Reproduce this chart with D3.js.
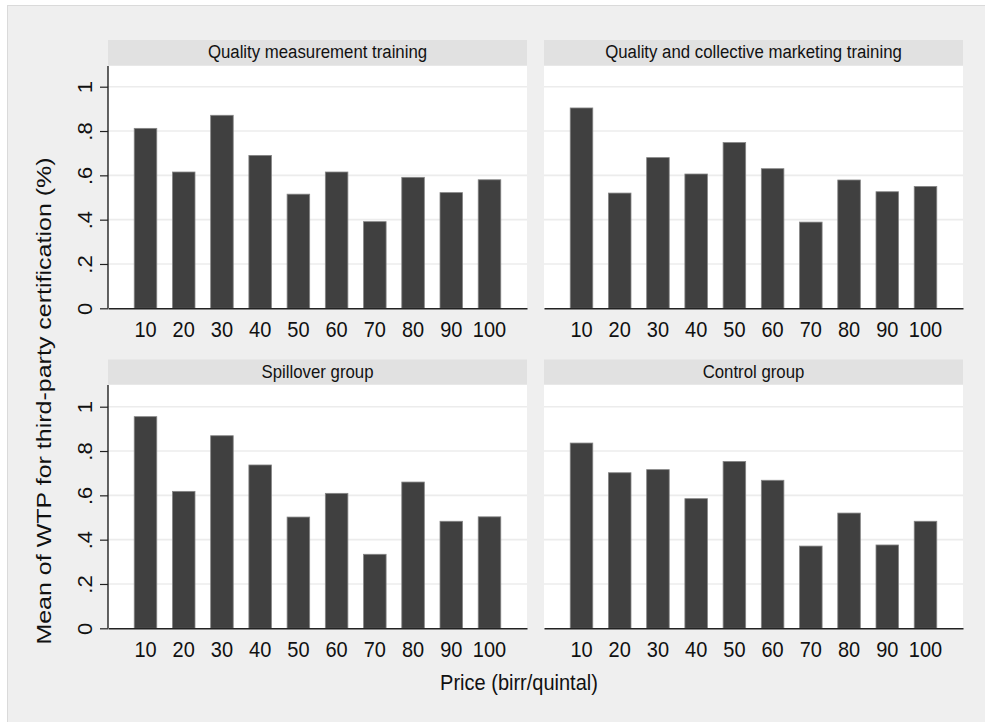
<!DOCTYPE html>
<html>
<head>
<meta charset="utf-8">
<script src="https://cdn.jsdelivr.net/npm/d3@7"></script>
<style>
  body { margin: 0; background: #fff; }
  text { font-family: "Liberation Sans", Arial, sans-serif; fill: #111; }
</style>
</head>
<body>
<div id="chart"></div>
<script>
const prices = ["10", "20", "30", "40", "50", "60", "70", "80", "90", "100"];
const panelTitles = ["Quality measurement training", "Quality and collective marketing training", "Spillover group", "Control group"];
const qualityMeasurement = [0.812, 0.615, 0.871, 0.690, 0.515, 0.615, 0.391, 0.591, 0.522, 0.580];
const collectiveMarketing = [0.904, 0.520, 0.680, 0.606, 0.748, 0.630, 0.389, 0.579, 0.526, 0.550];
const spillover = [0.955, 0.618, 0.869, 0.737, 0.502, 0.609, 0.334, 0.660, 0.483, 0.503];
const control = [0.836, 0.702, 0.716, 0.585, 0.753, 0.668, 0.371, 0.520, 0.376, 0.483];
const yTicks = [0, 0.2, 0.4, 0.6, 0.8, 1];
const yTickLabels = ["0", ".2", ".4", ".6", ".8", "1"];

const width = 985, height = 722;
const stretch = 1.1; // the picture is a bit taller than wide, text too

const svg = d3.select("#chart").append("svg")
  .attr("width", width)
  .attr("height", height);

svg.append("rect")
  .attr("x", 7.5).attr("y", 5.5)
  .attr("width", 985).attr("height", 730)
  .attr("fill", "#efefef")
  .attr("stroke", "#dadada");

const cols = [[108, 527], [544, 963]];
const rows = [{ head: 40, top: 66, zero: 308.3 }, { head: 359.5, top: 385, zero: 628.3 }];
const series = [qualityMeasurement, collectiveMarketing, spillover, control];

series.forEach((values, i) => {
  const c = cols[i % 2], r = rows[Math.floor(i / 2)];
  const data = prices.map((p, j) => ({ price: p, value: values[j] }));

  const x = d3.scaleBand().domain(prices).range(c)
    .paddingInner(0.41).paddingOuter(0.686);
  const y = d3.scaleLinear().domain([0, 1]).range([r.zero, r.zero - 221.6]);

  const g = svg.append("g");

  // header strip
  g.append("rect")
    .attr("x", c[0]).attr("y", r.head)
    .attr("width", c[1] - c[0]).attr("height", r.top - r.head - 0.5)
    .attr("fill", "#e1e1e1");
  g.append("text")
    .attr("transform", `translate(${(c[0] + c[1]) / 2},${r.head + 18}) scale(1,${stretch})`)
    .attr("text-anchor", "middle")
    .attr("font-size", 16.8)
    .text(panelTitles[i]);

  // plot area
  g.append("rect")
    .attr("x", c[0]).attr("y", r.top)
    .attr("width", c[1] - c[0]).attr("height", r.zero - r.top)
    .attr("fill", "#fff");

  g.selectAll(".grid").data(yTicks.slice(1)).enter().append("line")
    .attr("x1", c[0]).attr("x2", c[1])
    .attr("y1", d => y(d)).attr("y2", d => y(d))
    .attr("stroke", "#ececec").attr("stroke-width", 1.6);

  g.selectAll(".bar").data(data).enter().append("rect")
    .attr("x", d => x(d.price))
    .attr("y", d => y(d.value))
    .attr("width", x.bandwidth())
    .attr("height", d => y(0) - y(d.value))
    .attr("fill", "#404040")
    .attr("stroke", "#858585")
    .attr("stroke-width", 0.8);

  // x axis
  const xAxis = g.append("g")
    .attr("transform", `translate(0,${r.zero})`)
    .call(d3.axisBottom(x).tickSize(0).tickSizeOuter(0));
  xAxis.select(".domain").attr("stroke", "#222").attr("stroke-width", 1.4);
  xAxis.selectAll("text")
    .attr("y", 0).attr("dy", 0)
    .attr("transform", `translate(0,28.7) scale(1,${stretch})`)
    .attr("font-size", 20)
    .attr("font-family", "Liberation Sans, Arial, sans-serif")
    .attr("fill", "#111");

  // y axis only on the left column
  if (i % 2 === 0) {
    const yAxis = g.append("g")
      .attr("transform", `translate(${c[0]},0)`)
      .call(d3.axisLeft(y).tickValues(yTicks)
        .tickFormat((d, k) => yTickLabels[k]).tickSize(8).tickSizeOuter(0));
    yAxis.select(".domain")
      .attr("d", `M0,${r.top}V${r.zero}`)
      .attr("stroke", "#222").attr("stroke-width", 1.4);
    yAxis.selectAll(".tick line").attr("stroke", "#222").attr("stroke-width", 1.2);
    yAxis.selectAll("text")
      .attr("x", 0).attr("dy", 0)
      .attr("text-anchor", "middle")
      .attr("transform", `translate(-16,0) rotate(-90) scale(${stretch},1)`)
      .attr("font-size", 20)
      .attr("font-family", "Liberation Sans, Arial, sans-serif")
      .attr("fill", "#111");
  }
});

// axis titles
svg.append("text")
  .attr("transform", `translate(519,690) scale(1,${stretch})`)
  .attr("text-anchor", "middle")
  .attr("font-size", 20)
  .text("Price (birr/quintal)");

svg.append("text")
  .attr("transform", `translate(51,401) rotate(-90) scale(1.22,1)`)
  .attr("text-anchor", "middle")
  .attr("font-size", 20.5)
  .text("Mean of WTP for third-party certification (%)");
</script>
</body>
</html>
